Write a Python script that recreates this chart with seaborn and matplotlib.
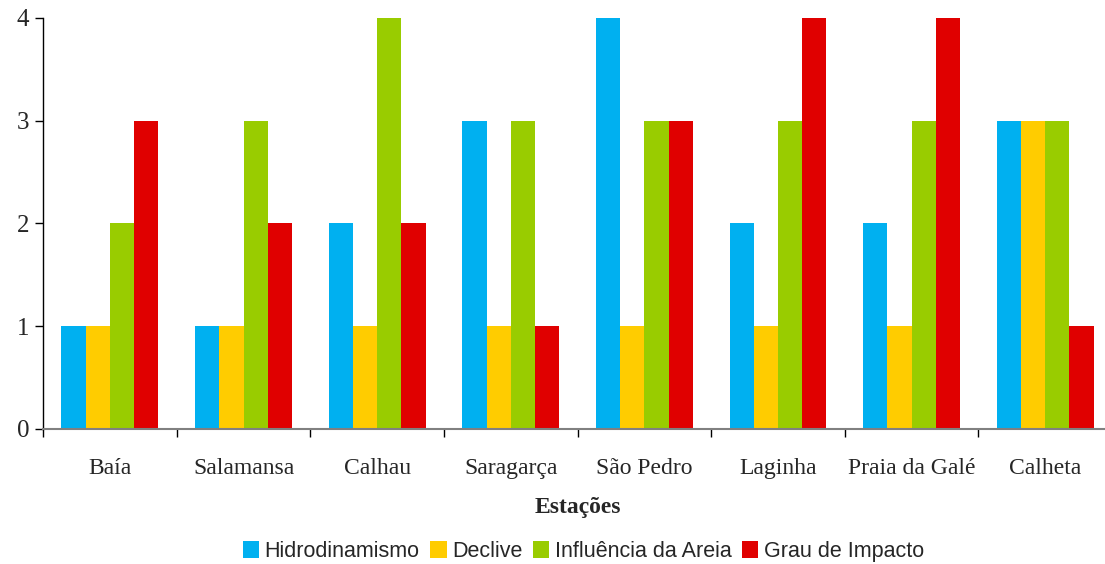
import matplotlib
matplotlib.use("Agg")
import matplotlib.pyplot as plt
import seaborn as sns
import pandas as pd
from matplotlib.patches import Patch

estacoes = ["Baía", "Salamansa", "Calhau", "Saragarça", "São Pedro",
            "Laginha", "Praia da Galé", "Calheta"]
series = ["Hidrodinamismo", "Declive", "Influência da Areia", "Grau de Impacto"]
hidrodinamismo = [1, 1, 2, 3, 4, 2, 2, 3]
declive = [1, 1, 1, 1, 1, 1, 1, 3]
influencia_areia = [2, 3, 4, 3, 3, 3, 3, 3]
grau_impacto = [3, 2, 2, 1, 3, 4, 4, 1]
cores = ["#00B0F0", "#FFCC00", "#99CC00", "#E00000"]

valores = [hidrodinamismo, declive, influencia_areia, grau_impacto]
df = pd.DataFrame([
    {"Estação": e, "Parâmetro": s, "Valor": v}
    for s, vals in zip(series, valores)
    for e, v in zip(estacoes, vals)
])

sns.set_style("white")
plt.rcParams["font.family"] = ["Liberation Serif", "DejaVu Serif"]

fig = plt.figure(figsize=(11.05, 5.64), dpi=100)
ax = fig.add_axes([0.039, 0.2394, 0.9674, 0.7287])

sns.barplot(data=df, x="Estação", y="Valor", hue="Parâmetro",
            order=estacoes, hue_order=series, palette=cores,
            width=0.725, gap=0, saturation=1, linewidth=0, ax=ax,
            legend=False)

ax.set_xlim(-0.5, 7.5)
ax.set_ylim(0, 4)
ax.set_yticks([0, 1, 2, 3, 4])
ax.set_yticklabels(["0", "1", "2", "3", "4"], fontsize=18)
ax.tick_params(axis="y", direction="out", length=6, width=1, color="black",
               left=True, pad=4)
ax.set_xticks(range(len(estacoes)))
ax.set_xticklabels(estacoes, fontsize=17)
ax.tick_params(axis="x", which="major", length=0, pad=21)
ax.set_xticks([i - 0.5 for i in range(len(estacoes) + 1)], minor=True)
ax.tick_params(axis="x", which="minor", direction="out", length=6,
               width=1, color="black", bottom=True)

for side in ["top", "right"]:
    ax.spines[side].set_visible(False)
ax.spines["left"].set_color("black")
ax.spines["left"].set_linewidth(1)
ax.spines["bottom"].set_color("#808080")
ax.spines["bottom"].set_linewidth(1.5)
ax.set_ylabel("")
ax.set_xlabel("Estações", fontsize=17, fontweight="bold", labelpad=13)

handles = [Patch(facecolor=c, edgecolor="none") for c in cores]
fig.legend(handles, series, loc="center", bbox_to_anchor=(0.528, 0.022),
           ncol=4, frameon=False, handlelength=0.75, handleheight=0.8,
           handletextpad=0.25, columnspacing=0.5,
           prop={"family": ["Liberation Sans"], "size": 15.5})

fig.savefig("out.png", dpi=100)
